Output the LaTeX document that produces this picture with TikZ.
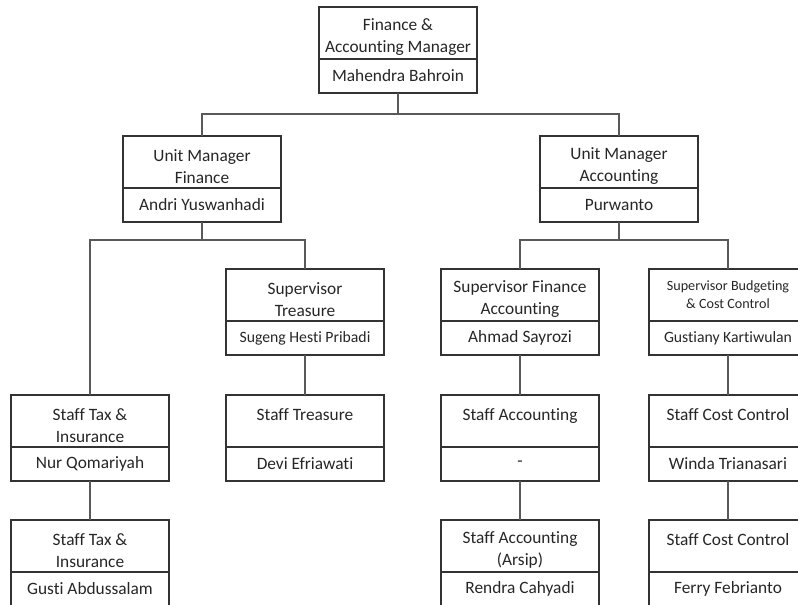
\documentclass[tikz,border=0pt]{standalone}
\usepackage{fontspec}
\setmainfont{Carlito}[Ligatures=NoCommon]
\def\titlestrut{\rule{0pt}{15.5pt}}
\def\orgbox[#1][#2](#3)(#4,#5)#6#7{\node[titlebox,#1] (#3) at (#4,#5) {\titlestrut#6};
	\node[namebox,#2] (#3N) at (#3.south) {#7};}
\tikzset{
	titlebox/.style={draw=black!80, line width=1.1pt, outer sep=0pt, inner ysep=0pt, minimum width=118.5pt, minimum height=39pt, align=center, text=black!85, font=\fontsize{13}{16.5}\selectfont},
	tinytitle/.style={font=\fontsize{10.6}{13.5}\selectfont\let\titlestrut\relax},
	namebox/.style={draw=black!80, line width=1.1pt, outer sep=0pt, inner ysep=0pt, anchor=north, minimum width=118.5pt, minimum height=25.5pt, text=black!85, font=\fontsize{13}{16.5}\selectfont},
	tinyname/.style={font=\fontsize{11.8}{14}\selectfont},
	link/.style={draw=black!65, line width=1.1pt}
}

\begin{document}
\begin{tikzpicture}[x=0.75pt, y=-0.75pt]
			%%%%% START %%%%%
			\useasboundingbox (0, 0) rectangle (798, 605);
			
			\orgbox[][](fam)(398, 33){Finance \&\\Accounting Manager}{Mahendra Bahroin}
			
			\orgbox[][](umf)(202, 162){Unit Manager\\Finance}{Andri Yuswanhadi}
			\orgbox[][](uma)(619, 162){Unit Manager\\Accounting}{Purwanto}
			
			\orgbox[][tinyname](sta)(305, 295){Supervisor\\Treasure}{Sugeng Hesti Pribadi}
			\orgbox[][](sfa)(520, 295){Supervisor Finance\\Accounting}{Ahmad Sayrozi}
			\orgbox[tinytitle][tinyname](sbc)(728, 295){Supervisor Budgeting\\\& Cost Control}{Gustiany Kartiwulan}
			
			\orgbox[][](stx)(90, 421){Staff Tax \&\\Insurance}{Nur Qomariyah}
			\orgbox[][](str)(305, 421){Staff Treasure\\~}{Devi Efriawati}
			\orgbox[][](sac)(520, 421){Staff Accounting\\~}{-}
			\orgbox[][](scc)(728, 421){Staff Cost Control\\~}{Winda Trianasari}
			
			\orgbox[][](stxb)(90, 546){Staff Tax \&\\Insurance}{Gusti Abdussalam}
			\orgbox[][](sacb)(520, 546){Staff Accounting\\(Arsip)}{Rendra Cahyadi}
			\orgbox[][](sccb)(728, 546){Staff Cost Control\\~}{Ferry Febrianto}
			
			% lines between the boxes
			\draw[link] (famN.south) -- ++(0, 21) -| (umf.north);
			\draw[link] (famN.south) -- ++(0, 21) -| (uma.north);
			
			\draw[link] (umfN.south) -- ++(0, 18) -| (stx.north);
			\draw[link] (umfN.south) -- ++(0, 18) -| (sta.north);
			\draw[link] (umaN.south) -- ++(0, 18) -| (sfa.north);
			\draw[link] (umaN.south) -- ++(0, 18) -| (sbc.north);
			
			\draw[link] (staN.south) -- (str.north);
			\draw[link] (sfaN.south) -- (sac.north);
			\draw[link] (sbcN.south) -- (scc.north);
			
			\draw[link] (stxN.south) -- (stxb.north);
			\draw[link] (sacN.south) -- (sacb.north);
			\draw[link] (sccN.south) -- (sccb.north);
			
			%%%%% END %%%%%
		\end{tikzpicture}
\end{document}
